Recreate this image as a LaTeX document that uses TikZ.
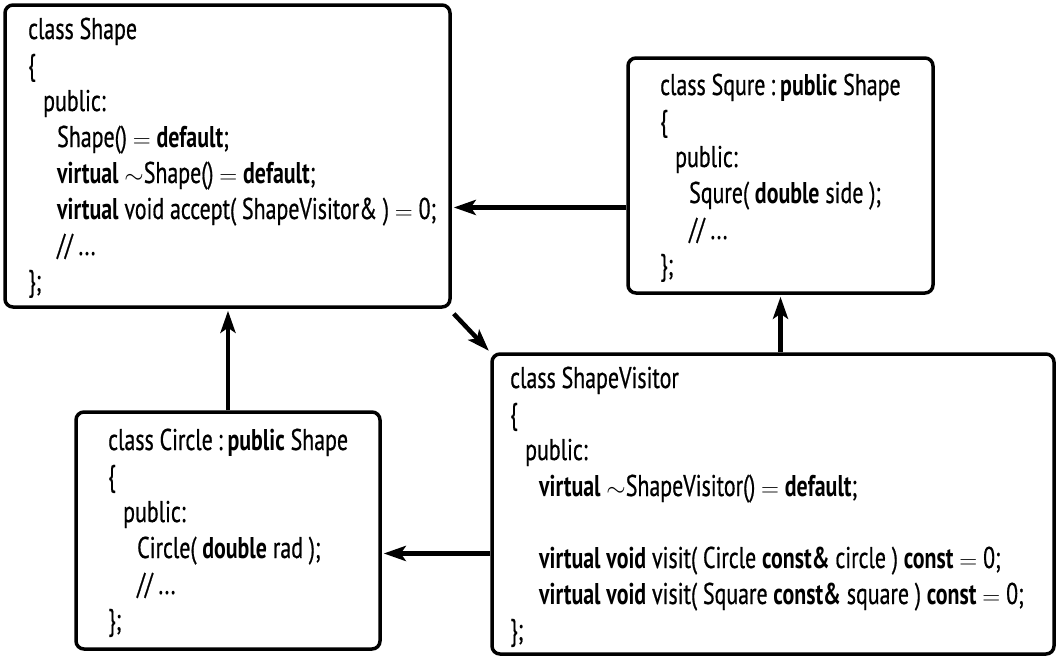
\documentclass[tikz,border=0pt]{standalone}
\usepackage{fontspec}
\setmainfont{PT Sans}[FakeStretch=0.73, UprightFeatures={FakeBold=0.6}]
\usetikzlibrary{arrows.meta,calc}
\newcommand{\ia}{\hspace*{15pt}}
\newcommand{\ib}{\hspace*{29pt}}
\newcommand{\kw}[1]{\textbf{#1}}
\newcommand{\tl}{$\sim$}
\newcommand{\eq}{$=$}
\tikzset{
  box/.style={draw, line width=3.5pt, rounded corners=8pt, rectangle, inner sep=0pt},
  code/.style={anchor=base west, inner sep=0pt, font=\fontsize{30}{36}\selectfont},
  arr/.style={line width=4.5pt, -{Stealth[length=22pt,width=15pt,inset=5pt]}, shorten >=2pt}
}
\begin{document}
\begin{tikzpicture}[x=1pt,y=-1pt]
\useasboundingbox (0,0) rectangle (1058,664);
% boxes
\node[box, minimum width=445pt, minimum height=302pt] (shape) at (227.5,156) {};
\node[box, minimum width=305pt, minimum height=235pt] (squre) at (780.5,175.5) {};
\node[box, minimum width=562pt, minimum height=300pt] (visitor) at (773,504) {};
\node[box, minimum width=304pt, minimum height=237pt] (circle) at (228,530.5) {};
% texts
\node[code] (shapetxt) at (28,39) {\begin{tabular}[t]{@{}l@{}}
class Shape\\
\{\\
\ia public:\\
\ib Shape() \eq{} \kw{default};\\
\ib \kw{virtual} \tl Shape() \eq{} \kw{default};\\
\ib \kw{virtual} void accept( ShapeVisitor\& ) \eq{} 0;\\
\ib // ...\\
\};
\end{tabular}};
\node[code] (squretxt) at (660,95) {\begin{tabular}[t]{@{}l@{}}
class Squre\,:\,\kw{public} Shape\\
\{\\
\ia public:\\
\ib Squre( \kw{double} side );\\
\ib // ...\\
\};
\end{tabular}};
\node[code] (circletxt) at (108,450) {\begin{tabular}[t]{@{}l@{}}
class Circle\,:\,\kw{public} Shape\\
\{\\
\ia public:\\
\ib Circle( \kw{double} rad );\\
\ib // ...\\
\};
\end{tabular}};
\node[code] (visitortxt) at (510,388) {\begin{tabular}[t]{@{}l@{}}
class ShapeVisitor\\
\{\\
\ia public:\\
\ib \kw{virtual} \tl ShapeVisitor() \eq{} \kw{default};\\
\\
\ib \kw{virtual} \kw{void} visit( Circle \kw{const\&} circle ) \kw{const} \eq{} 0;\\
\ib \kw{virtual} \kw{void} visit( Square \kw{const\&} square ) \kw{const} \eq{} 0;\\
\};
\end{tabular}};
% connectors
\coordinate (a1) at ($(squre.south west)!0.366!(squre.north west)$);
\coordinate (a2) at ($(visitor.south west)!0.337!(visitor.north west)$);
\coordinate (a3) at ($(shape.south east)+(2,5)$);
\draw[arr] (a1) -- (a1 -| shape.east);
\draw[arr] (visitor.north -| squre.south) -- (squre.south);
\draw[arr] (circle.north) -- (circle.north |- shape.south);
\draw[arr] (a2) -- (a2 -| circle.east);
\draw[arr] (a3) -- (visitor.north west);
\end{tikzpicture}
\end{document}
